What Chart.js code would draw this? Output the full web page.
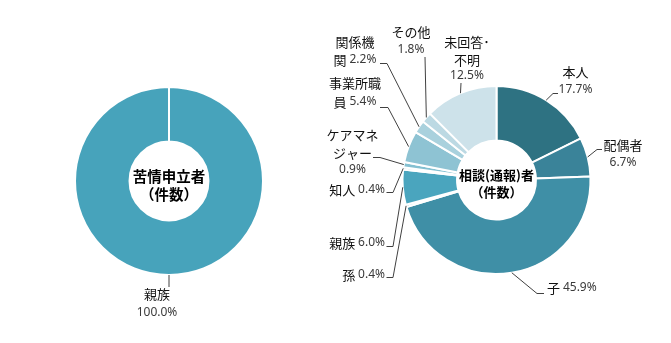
<!DOCTYPE html>
<html>
<head>
<meta charset="utf-8">
<script src="https://cdn.jsdelivr.net/npm/chart.js@4/dist/chart.umd.min.js"></script>
<style>
  html, body { margin: 0; padding: 0; background: #fff; }
  #wrap { position: relative; width: 671px; height: 343px; overflow: hidden; }
  canvas { position: absolute; top: 0; }
</style>
</head>
<body>
<div id="wrap">
  <canvas id="complaint" width="310" height="343" style="left:0"></canvas>
  <canvas id="consult" width="361" height="343" style="left:310px"></canvas>
</div>
<script>
// 苦情申立者（件数）
const complaintTitle = ['苦情申立者', '（件数）'];
const complaintCategories = ['親族'];
const complaintValues = [100.0];
const complaintColors = ['#47A3BB'];

// 相談（通報）者（件数）
const consultTitle = ['相談(通報)者', '（件数）'];
const consultCategories = ['本人', '配偶者', '子', '孫', '親族', '知人', 'ケアマネジャー', '事業所職員', '関係機関', 'その他', '未回答･不明'];
const consultValues = [17.7, 6.7, 45.9, 0.4, 6.0, 0.4, 0.9, 5.4, 2.2, 1.8, 12.5];
const consultColors = ['#2E7282', '#3A8399', '#3F8FA6', '#5DB0C5', '#4AA5BE', '#78BACC', '#84C0D1', '#8EC3D3', '#A9D1DD', '#BCD9E3', '#CDE2EA'];

const nameFont = '13px "Noto Sans CJK JP", sans-serif';
const valueFont = '12px "Noto Sans", "Noto Sans CJK JP", sans-serif';
const nameColor = '#111';
const valueColor = '#3a3a3a';
const leaderColor = '#404040';

// Label placement around each ring, relative to the ring centre.
// cuts: where the category name wraps; inline: value follows the last name line.
// path: leader-line bend points; x/align: text anchor; y: each text line.
const complaintLabelLayout = [
  { cuts: [], inline: false, path: [[0, 106]], x: -12, align: 'center', y: [113.5, 131.5] }
];
const consultLabelLayout = [
  { cuts: [], inline: false, path: [[56.5, -86.5], [61.5, -86.5]], x: 79, align: 'center', y: [-108, -90] },
  { cuts: [], inline: false, path: [[100.5, -30.5], [105.5, -30.5]], x: 126.5, align: 'center', y: [-35, -17] },
  { cuts: [], inline: true, path: [[40.5, 113.5], [47.5, 113.5]], x: 50.5, align: 'left', y: [108] },
  { cuts: [], inline: true, path: [[-103.5, 97.5], [-110, 97.5]], x: -111.5, align: 'right', y: [95] },
  { cuts: [], inline: true, path: [[-103.5, 66.5], [-110, 66.5]], x: -111.5, align: 'right', y: [63] },
  { cuts: [], inline: true, path: [[-103.5, 12.5], [-110, 12.5]], x: -111.5, align: 'right', y: [10] },
  { cuts: [4], inline: false, path: [[-116.5, -22.5], [-123.5, -22.5]], x: -144, align: 'center', y: [-45, -27, -10] },
  { cuts: [4], inline: true, path: [[-108.5, -72.5], [-116.5, -72.5]], x: -141.5, align: 'center', y: [-97, -78] },
  { cuts: [3], inline: true, path: [[-109.5, -116.5], [-116.5, -116.5]], x: -141.5, align: 'center', y: [-138, -120] },
  { cuts: [], inline: false, path: [[-71.5, -123]], x: -85.5, align: 'center', y: [-148, -130] },
  { cuts: [4], inline: false, path: [[-35.5, -97]], x: -29.5, align: 'center', y: [-138, -120, -104] }
];

function labelLines(name, value, spec) {
  const parts = [];
  let prev = 0;
  spec.cuts.forEach(c => { parts.push(name.slice(prev, c)); prev = c; });
  parts.push(name.slice(prev));
  const v = value.toFixed(1) + '%';
  const lines = parts.map(p => [{ t: p, value: false }]);
  if (spec.inline) {
    lines[lines.length - 1].push({ t: ' ', value: false }, { t: v, value: true });
  } else {
    lines.push([{ t: v, value: true }]);
  }
  return lines;
}

const donutLabels = {
  id: 'donutLabels',
  afterDatasetsDraw(chart, args, opts) {
    const ctx = chart.ctx;
    const meta = chart.getDatasetMeta(0);
    const values = chart.data.datasets[0].data;
    let cx = 0, cy = 0;
    meta.data.forEach((arc, i) => {
      const p = arc.getProps(['x', 'y', 'startAngle', 'endAngle', 'outerRadius'], true);
      cx = p.x; cy = p.y;
      const spec = opts.layout[i];
      if (!spec) return;
      const mid = (p.startAngle + p.endAngle) / 2;
      const sx = p.x + Math.cos(mid) * p.outerRadius;
      const sy = p.y + Math.sin(mid) * p.outerRadius;
      ctx.save();
      ctx.strokeStyle = leaderColor;
      ctx.lineWidth = 1;
      ctx.beginPath();
      ctx.moveTo(sx, sy);
      spec.path.forEach(([dx, dy]) => ctx.lineTo(p.x + dx, p.y + dy));
      ctx.stroke();

      ctx.textAlign = 'left';
      ctx.textBaseline = 'middle';
      labelLines(chart.data.labels[i], values[i], spec).forEach((segs, li) => {
        const widths = segs.map(s => { ctx.font = s.value ? valueFont : nameFont; return ctx.measureText(s.t).width; });
        const total = widths.reduce((a, b) => a + b, 0);
        let x = p.x + spec.x;
        if (spec.align === 'center') x -= total / 2;
        else if (spec.align === 'right') x -= total;
        const y = p.y + spec.y[li];
        segs.forEach((s, k) => {
          ctx.font = s.value ? valueFont : nameFont;
          ctx.fillStyle = s.value ? valueColor : nameColor;
          ctx.fillText(s.t, x, y);
          x += widths[k];
        });
      });
      ctx.restore();
    });

    // title in the hole of the ring
    const c = opts.center;
    ctx.save();
    ctx.font = c.font;
    ctx.fillStyle = '#000';
    ctx.textAlign = 'center';
    ctx.textBaseline = 'middle';
    c.lines.forEach((t, k) => ctx.fillText(t, cx, cy + c.dy[k]));
    ctx.restore();
  }
};

function makeDonut(id, labels, values, colors, layout, padding, center) {
  return new Chart(document.getElementById(id), {
    type: 'doughnut',
    data: {
      labels: labels,
      datasets: [{
        data: values,
        backgroundColor: colors,
        borderColor: '#ffffff',
        borderWidth: 2
      }]
    },
    options: {
      responsive: false,
      animation: false,
      cutout: '42%',
      layout: { padding: padding },
      plugins: {
        legend: { display: false },
        tooltip: { enabled: false },
        donutLabels: { layout: layout, center: center }
      }
    },
    plugins: [donutLabels]
  });
}

makeDonut('complaint', complaintCategories, complaintValues, complaintColors, complaintLabelLayout,
  { left: 74, right: 46, top: 86, bottom: 67 },
  { lines: complaintTitle, dy: [-5, 13], font: 'bold 14.5px "Noto Sans CJK JP", sans-serif' });

makeDonut('consult', consultCategories, consultValues, consultColors, consultLabelLayout,
  { left: 91.5, right: 79.5, top: 85, bottom: 68 },
  { lines: consultTitle, dy: [-4.5, 12], font: 'bold 13px "Noto Sans CJK JP", sans-serif' });
</script>
</body>
</html>
